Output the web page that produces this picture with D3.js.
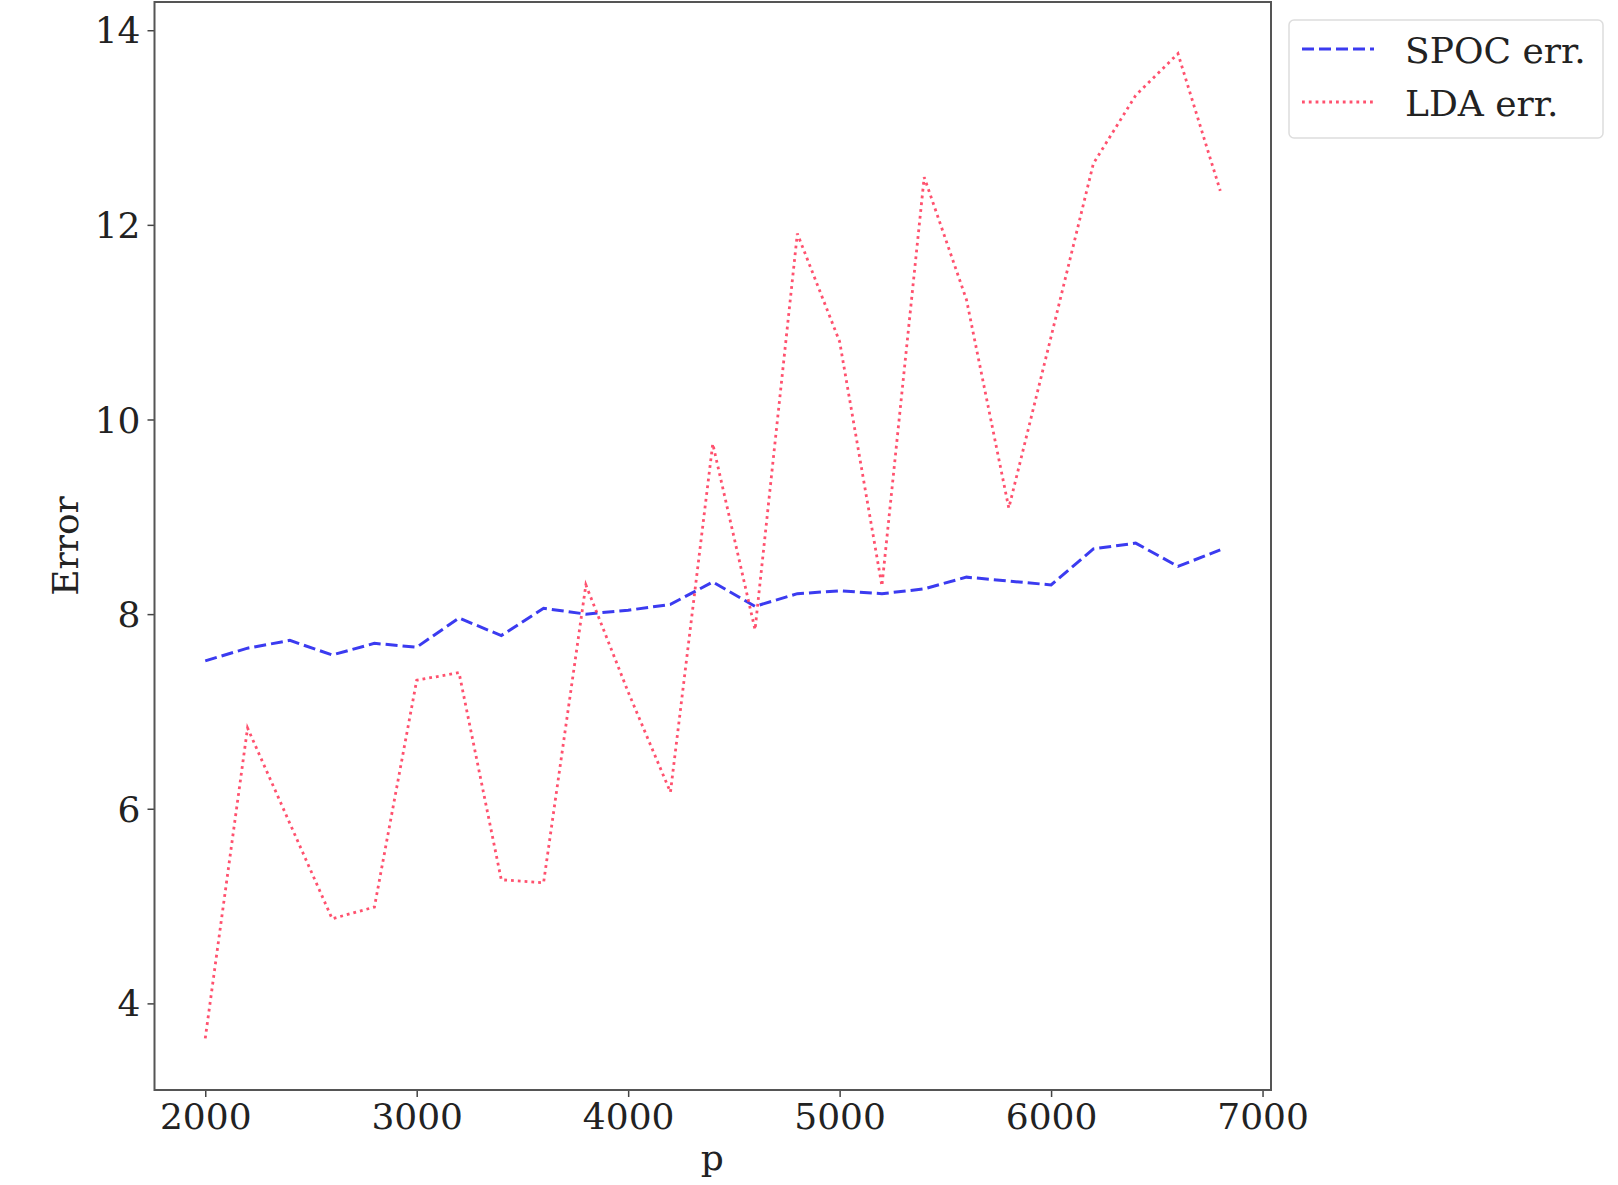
<!DOCTYPE html>
<html>
<head>
<meta charset="utf-8">
<script src="https://cdn.jsdelivr.net/npm/d3@7"></script>
<style>
  body { margin: 0; background: #fff; }
  svg text { font-family: "DejaVu Serif", serif; fill: #222; }
</style>
</head>
<body>
<svg id="chart"></svg>
<script>
// data
var pValues = [2000, 2200, 2400, 2600, 2800, 3000, 3200, 3400, 3600, 3800, 4000, 4200, 4400,
               4600, 4800, 5000, 5200, 5400, 5600, 5800, 6000, 6200, 6400, 6600, 6800];
var spocErr = [7.52, 7.65, 7.73, 7.58, 7.70, 7.66, 7.96, 7.78, 8.06, 8.00, 8.04, 8.10, 8.33,
               8.08, 8.21, 8.24, 8.21, 8.26, 8.38, 8.34, 8.30, 8.67, 8.73, 8.49, 8.66];
var ldaErr  = [3.64, 6.83, 5.85, 4.87, 4.99, 7.32, 7.40, 5.27, 5.24, 8.30, 7.20, 6.17, 9.75,
               7.84, 11.91, 10.80, 8.29, 12.49, 11.23, 9.09, 10.85, 12.63, 13.33, 13.76, 12.35];
var xTicks = [2000, 3000, 4000, 5000, 6000, 7000];
var yTicks = [4, 6, 8, 10, 12, 14];
var seriesNames = ["SPOC err.", "LDA err."];

var W = 1618, H = 1185;
var plotLeft = 154.5, plotRight = 1271, plotTop = 2, plotBottom = 1090;

var svg = d3.select("#chart").attr("width", W).attr("height", H);

var x = d3.scaleLinear().domain([1760, 7040]).range([plotLeft, plotRight]);
var y = d3.scaleLinear().domain([3.11, 14.29]).range([plotBottom, plotTop]);

var line = d3.line()
  .x(function (d, i) { return x(pValues[i]); })
  .y(function (d) { return y(d); });

var colors = ["#3b3bf0", "#ff3355"];
var dashes = ["12,5", "2.8,4"];
var widths = [3, 2.8];

// lines
svg.append("path")
  .datum(spocErr)
  .attr("d", line)
  .attr("fill", "none")
  .attr("stroke", colors[0])
  .attr("stroke-width", widths[0])
  .attr("stroke-dasharray", dashes[0]);

svg.append("path")
  .datum(ldaErr)
  .attr("d", line)
  .attr("fill", "none")
  .attr("stroke", colors[1])
  .attr("stroke-opacity", 0.85)
  .attr("stroke-width", widths[1])
  .attr("stroke-dasharray", dashes[1]);

// axes
var xAxis = d3.axisBottom(x).tickValues(xTicks).tickSize(7).tickPadding(6)
  .tickFormat(d3.format("d"));
var yAxis = d3.axisLeft(y).tickValues(yTicks).tickSize(7).tickPadding(7)
  .tickFormat(d3.format("d"));

var gx = svg.append("g").attr("transform", "translate(0," + plotBottom + ")").call(xAxis);
var gy = svg.append("g").attr("transform", "translate(" + plotLeft + ",0)").call(yAxis);

[gx, gy].forEach(function (g) {
  g.select(".domain").remove();
  g.selectAll(".tick line").attr("stroke", "#444").attr("stroke-width", 1.5);
  g.selectAll(".tick text").attr("font-size", 36).attr("fill", "#222");
});
gy.selectAll(".tick text").attr("dy", "0.35em");

// frame
svg.append("rect")
  .attr("x", plotLeft).attr("y", plotTop)
  .attr("width", plotRight - plotLeft).attr("height", plotBottom - plotTop)
  .attr("fill", "none")
  .attr("stroke", "#555")
  .attr("stroke-width", 2);

// axis labels
svg.append("text")
  .attr("x", (plotLeft + plotRight) / 2 - 0.5)
  .attr("y", 1170)
  .attr("text-anchor", "middle")
  .attr("font-size", 36)
  .text("p");

svg.append("text")
  .attr("transform", "translate(78,546) rotate(-90)")
  .attr("text-anchor", "middle")
  .attr("font-size", 36)
  .text("Error");

// legend
var legend = svg.append("g");
legend.append("rect")
  .attr("x", 1289).attr("y", 20)
  .attr("width", 314).attr("height", 118)
  .attr("rx", 5)
  .attr("fill", "#fff")
  .attr("stroke", "#ddd")
  .attr("stroke-width", 1.5);

var legendY = [49, 102];
seriesNames.forEach(function (name, i) {
  legend.append("line")
    .attr("x1", 1302).attr("x2", 1374)
    .attr("y1", legendY[i]).attr("y2", legendY[i])
    .attr("stroke", colors[i])
    .attr("stroke-opacity", i === 1 ? 0.85 : 1)
    .attr("stroke-width", widths[i])
    .attr("stroke-dasharray", dashes[i]);
  legend.append("text")
    .attr("x", 1405)
    .attr("y", legendY[i] + 14)
    .attr("font-size", 36)
    .text(name);
});
</script>
</body>
</html>
